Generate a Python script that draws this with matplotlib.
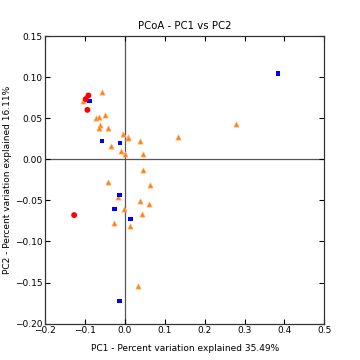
import matplotlib
matplotlib.use("Agg")
import matplotlib.pyplot as plt

red_x = [-0.0912, -0.098, -0.0937, -0.127]
red_y = [0.0776, 0.0732, 0.0601, -0.0679]

blue_x = [-0.0887, -0.0568, -0.0116, -0.0133, -0.0259, 0.0143, -0.0133, 0.3837]
blue_y = [0.0711, 0.0220, 0.0199, -0.0432, -0.0602, -0.0724, -0.1724, 0.1044]

orange_x = [-0.0568, -0.1038, -0.100, -0.0485, -0.0711, -0.0636, -0.0611, -0.0643,
            -0.0410, -0.0040, 0.0068, 0.0068, 0.0387, -0.0342, -0.0090, 0.0010,
            0.0445, 0.0445, 0.1324, 0.2774, -0.0410, 0.0621, -0.0183, 0.0387,
            0.0595, -0.0015, 0.0420, -0.0266, 0.0136, 0.0337]
orange_y = [0.0817, 0.0711, 0.0729, 0.0540, 0.0500, 0.0512, 0.0418, 0.0378,
            0.0378, 0.0309, 0.0276, 0.0254, 0.0223, 0.0162, 0.0101, 0.0061,
            0.0061, -0.0130, 0.0268, 0.0427, -0.0280, -0.0313, -0.0463, -0.0509,
            -0.0545, -0.0610, -0.0667, -0.0777, -0.0813, -0.1537]

title = "PCoA - PC1 vs PC2"
xlabel = "PC1 - Percent variation explained 35.49%"
ylabel = "PC2 - Percent variation explained 16.11%"

fig = plt.figure(figsize=(3.6, 3.6), dpi=100)
ax = fig.add_axes([0.125, 0.101, 0.776, 0.799])

ax.axhline(0, color="#555555", lw=0.9, zorder=1)
ax.axvline(0, color="#555555", lw=0.9, zorder=1)

ax.scatter(orange_x, orange_y, marker="^", s=14, color="#ff7f0e",
           edgecolors="#ffb070", linewidths=0.5, zorder=3)
ax.scatter(blue_x, blue_y, marker="s", s=10, color="#0000ff",
           edgecolors="none", zorder=4)
ax.scatter(red_x, red_y, marker="o", s=18, color="#ff0000",
           edgecolors="none", zorder=4)

ax.set_xlim(-0.2, 0.5)
ax.set_ylim(-0.2, 0.15)
ax.set_xticks([-0.2, -0.1, 0.0, 0.1, 0.2, 0.3, 0.4, 0.5])
ax.set_yticks([-0.20, -0.15, -0.10, -0.05, 0.00, 0.05, 0.10, 0.15])
ax.tick_params(direction="in", top=True, right=True, labelsize=6.5,
               length=3.5, width=0.8, pad=2)
for s in ax.spines.values():
    s.set_color("#333333")
    s.set_linewidth(0.9)

ax.set_title(title, fontsize=7.3, pad=5)
ax.set_xlabel(xlabel, fontsize=6.5, labelpad=6)
ax.set_ylabel(ylabel, fontsize=6.5, labelpad=2)

fig.savefig("out.png", dpi=100)
